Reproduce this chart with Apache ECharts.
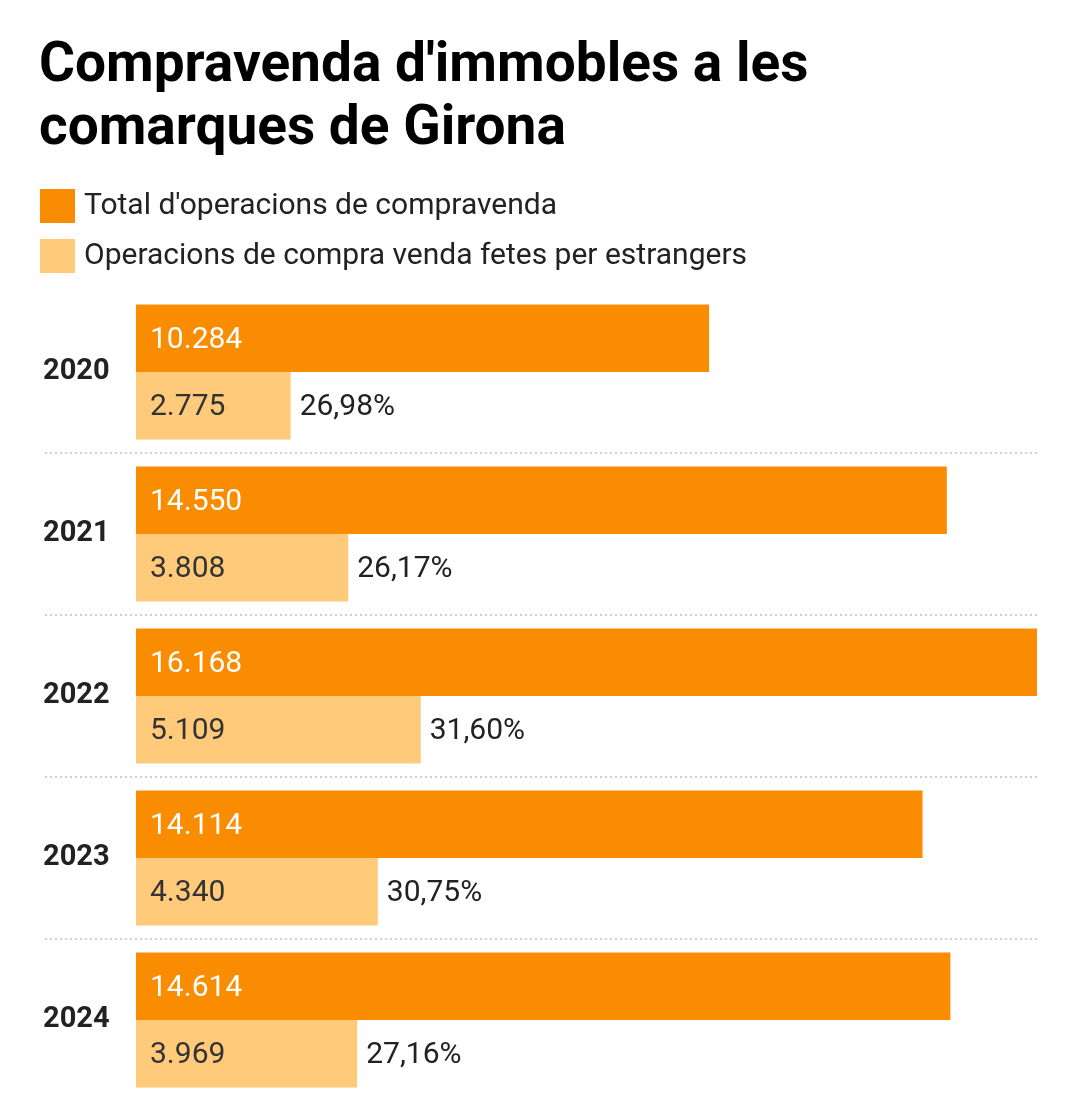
<!DOCTYPE html>
<html><head><meta charset="utf-8">
<script src="https://cdn.jsdelivr.net/npm/echarts@6/dist/echarts.min.js"></script>
<style>html,body{margin:0;padding:0;background:#fff}#c{width:1080px;height:1117px}</style>
</head><body><div id="c"></div>
<script>
const years = ['2020','2021','2022','2023','2024'];
const totalOps = [10284, 14550, 16168, 14114, 14614];
const foreignOps = [2775, 3808, 5109, 4340, 3969];
const foreignPct = ['26,98%','26,17%','31,60%','30,75%','27,16%'];
const seriesNames = ["Total d'operacions de compravenda", 'Operacions de compra venda fetes per estrangers'];

const DARK = '#F98C00', LIGHT = '#FFCA7A';
const fmt = v => String(v).replace(/\B(?=(\d{3})+(?!\d))/g, '.');
const FONT = 'Roboto';

const chart = echarts.init(document.getElementById('c'), null, {renderer:'canvas'});
chart.setOption({
  animation:false,
  backgroundColor:'#fff',
  textStyle:{fontFamily:FONT},
  title:{
    text:"Compravenda d'immobles a les\ncomarques de Girona",
    left:39, top:36, padding:0,
    textStyle:{fontFamily:FONT, fontSize:55, fontWeight:'bold', color:'#000', lineHeight:63}
  },
  legend:{
    orient:'vertical', left:40, top:187, padding:0,
    itemWidth:35, itemHeight:34, itemGap:12,
    icon:'rect',
    textStyle:{fontFamily:FONT, fontSize:30, lineHeight:34, color:'#222', padding:[4,0,0,4]},
    data:seriesNames
  },
  grid:[
    {left:136, right:43, top:291, bottom:16},
    {left:45, right:43, top:453, height:486}
  ],
  xAxis:[
    {type:'value', gridIndex:0, min:0, max:'dataMax', show:false},
    {type:'value', gridIndex:1, min:0, max:1, show:false},
    {type:'value', gridIndex:0, min:0, max:'dataMax', show:false}
  ],
  yAxis:[
    {type:'category', gridIndex:0, data:years, inverse:true,
     axisLine:{show:false}, axisTick:{show:false}, splitLine:{show:false},
     axisLabel:{align:'left', margin:93, padding:[8,0,0,0], fontFamily:FONT, fontSize:29, fontWeight:'bold', color:'#222'}},
    {type:'value', gridIndex:1, min:0, max:3, interval:1, inverse:true,
     axisLine:{show:false}, axisTick:{show:false}, axisLabel:{show:false},
     splitLine:{show:true, lineStyle:{color:'#cfcfcf', width:2, type:[2,3]}}},
    {type:'category', gridIndex:0, data:years, inverse:true, show:false}
  ],
  series:[
    {name:seriesNames[0], type:'bar', xAxisIndex:0, yAxisIndex:0, data:totalOps,
     itemStyle:{color:DARK}, barGap:'0%', barCategoryGap:'16.7%',
     label:{show:true, position:'insideLeft', distance:14, offset:[0,2], color:'#fff', fontFamily:FONT, fontSize:30,
       formatter:p=>fmt(p.value)}},
    {name:seriesNames[1], type:'bar', xAxisIndex:0, yAxisIndex:0, data:foreignOps,
     itemStyle:{color:LIGHT}, barGap:'0%', barCategoryGap:'16.7%',
     label:{show:true, position:'insideLeft', distance:14, offset:[0,2], color:'#333', fontFamily:FONT, fontSize:30,
       formatter:p=>fmt(p.value)}},
    {name:'_d', type:'bar', xAxisIndex:2, yAxisIndex:2, data:totalOps, silent:true,
     itemStyle:{color:'rgba(0,0,0,0)'}, barGap:'0%', barCategoryGap:'16.7%', label:{show:false}},
    {name:'_p', type:'bar', xAxisIndex:2, yAxisIndex:2, data:foreignOps, silent:true,
     itemStyle:{color:'rgba(0,0,0,0)'}, barGap:'0%', barCategoryGap:'16.7%',
     label:{show:true, position:'right', distance:9, offset:[0,2], color:'#222', fontFamily:FONT, fontSize:30,
       formatter:p=>foreignPct[p.dataIndex]}},
    {name:'_sep', type:'line', xAxisIndex:1, yAxisIndex:1, data:[], silent:true}
  ]
});
</script></body></html>
